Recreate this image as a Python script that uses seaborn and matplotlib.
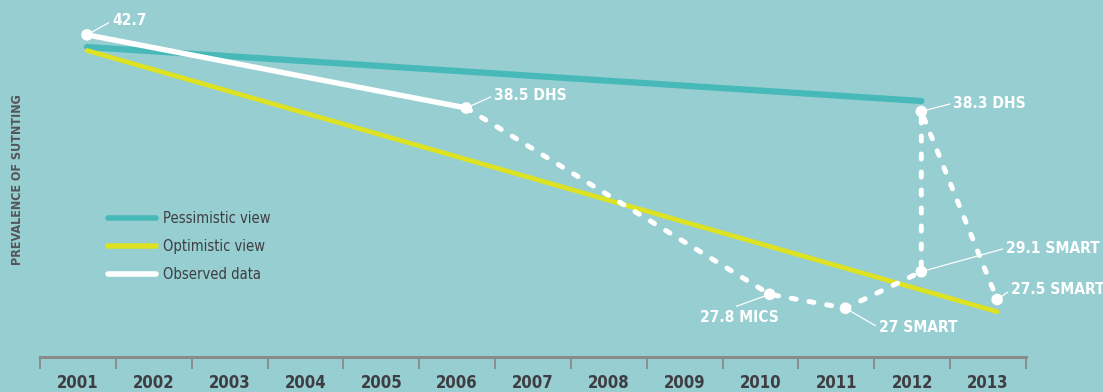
import matplotlib
matplotlib.use("Agg")
import matplotlib.pyplot as plt
from matplotlib.lines import Line2D
import seaborn as sns
import pandas as pd

# --- data -------------------------------------------------------------
years = [2001, 2002, 2003, 2004, 2005, 2006, 2007, 2008, 2009, 2010, 2011, 2012, 2013]
tick_labels = [str(y) for y in years]

pess_years = [2001, 2012]
pess_values = [42.0, 38.9]

opt_years = [2001, 2013]
opt_values = [41.8, 26.8]

obs_years = [2001, 2006, 2010, 2011, 2012, 2012, 2013]
obs_values = [42.7, 38.5, 27.8, 27.0, 29.1, 38.3, 27.5]
obs_labels = ["42.7", "38.5 DHS", "27.8 MICS", "27 SMART", "29.1 SMART", "38.3 DHS", "27.5 SMART"]

# survey points sit slightly into each year's column
SHIFT = 0.12

BG = "#96ced1"
TEAL = "#48b9b9"
YELLOW = "#dde222"
WHITE = "#ffffff"
AXIS_GREY = "#8a8a8a"
TEXT_DARK = "#3e3e42"

sns.set_theme(style="white")
plt.rcParams["font.family"] = ["DejaVu Sans"]
plt.rcParams["font.stretch"] = "condensed"

fig = plt.figure(figsize=(11.03, 3.92), dpi=100, facecolor=BG)
ax = fig.add_axes([40 / 1103, 35 / 392, 986 / 1103, 357 / 392])
ax.set_facecolor(BG)

pess = pd.DataFrame({"x": [y + SHIFT for y in pess_years], "y": pess_values})
opt = pd.DataFrame({"x": [y + SHIFT for y in opt_years], "y": opt_values})
obs = pd.DataFrame({"x": [y + SHIFT for y in obs_years], "y": obs_values})

sns.lineplot(data=pess, x="x", y="y", ax=ax, color=TEAL, lw=4.5,
             solid_capstyle="round", estimator=None, sort=False)
sns.lineplot(data=opt, x="x", y="y", ax=ax, color=YELLOW, lw=3.4,
             solid_capstyle="round", estimator=None, sort=False)

# solid observed trend up to 2006, dashed afterwards
sns.lineplot(data=obs.iloc[:2], x="x", y="y", ax=ax, color=WHITE, lw=3.9,
             solid_capstyle="round", estimator=None, sort=False)
sns.lineplot(data=obs.iloc[1:], x="x", y="y", ax=ax, color=WHITE, lw=3.6,
             estimator=None, sort=False, dashes=False)
ax.lines[-1].set_linestyle((0, (1.0, 2.6)))
ax.lines[-1].set_dash_capstyle("round")
sns.scatterplot(data=obs, x="x", y="y", ax=ax, color=WHITE, s=70,
                edgecolor="none", zorder=5)

# value labels with short leader lines (offsets in points)
label_pos = [
    (18, 10, "left", "center", (0, 0.5)),
    (20, 9, "left", "center", (0, 0.5)),
    (-22, -11, "center", "top", (0.35, 1)),
    (24, -14, "left", "center", (0, 0.5)),
    (61, 17, "left", "center", (0, 0.5)),
    (23, 6, "left", "center", (0, 0.5)),
    (10, 7, "left", "center", (0, 0.5)),
]
for x, y, txt, (dx, dy, ha, va, rp) in zip(obs["x"], obs["y"], obs_labels, label_pos):
    ax.annotate(txt, xy=(x, y), xytext=(dx, dy), textcoords="offset points",
                ha=ha, va=va, color=WHITE, fontsize=11.2, fontweight="bold",
                arrowprops=dict(arrowstyle="-", color=WHITE, lw=0.9,
                                shrinkA=0, shrinkB=1, relpos=rp),
                annotation_clip=False)

# x axis as a bracket-style scale with labels between the ticks
ax.set_xlim(years[0] - 0.5, years[-1] + 0.5)
ax.set_ylim(24.2, 44.7)
ax.set_xticks([y - 0.5 for y in years] + [years[-1] + 0.5])
ax.set_xticklabels([])
ax.set_xticks(years, minor=True)
ax.set_xticklabels(tick_labels, minor=True, fontsize=12, fontweight="bold",
                   color=TEXT_DARK)
ax.tick_params(axis="x", which="major", direction="out", length=8.5, width=1.3,
               color=AXIS_GREY, bottom=True)
ax.tick_params(axis="x", which="minor", length=0, pad=12)
ax.set_yticks([])
ax.set_xlabel("")
ax.set_ylabel("")
for side in ("top", "right", "left"):
    ax.spines[side].set_visible(False)
ax.spines["bottom"].set_color(AXIS_GREY)
ax.spines["bottom"].set_linewidth(2.2)

fig.text(18 / 1103, 1 - 180 / 392, "PREVALENCE OF SUTNTING", rotation=90,
         ha="center", va="center", fontsize=9, fontweight="bold",
         color="#555558")

handles = [
    Line2D([], [], color=TEAL, lw=4, solid_capstyle="round"),
    Line2D([], [], color=YELLOW, lw=4, solid_capstyle="round"),
    Line2D([], [], color=WHITE, lw=4, solid_capstyle="round"),
]
leg = ax.legend(handles, ["Pessimistic view", "Optimistic view", "Observed data"],
                loc="upper left", bbox_to_anchor=(62 / 986, 1 - 205 / 357),
                frameon=False, fontsize=10.5, handlelength=3.3, handletextpad=0.5,
                labelspacing=0.9, borderaxespad=0)
for t in leg.get_texts():
    t.set_color(TEXT_DARK)

fig.savefig("out.png", dpi=100, facecolor=BG)
